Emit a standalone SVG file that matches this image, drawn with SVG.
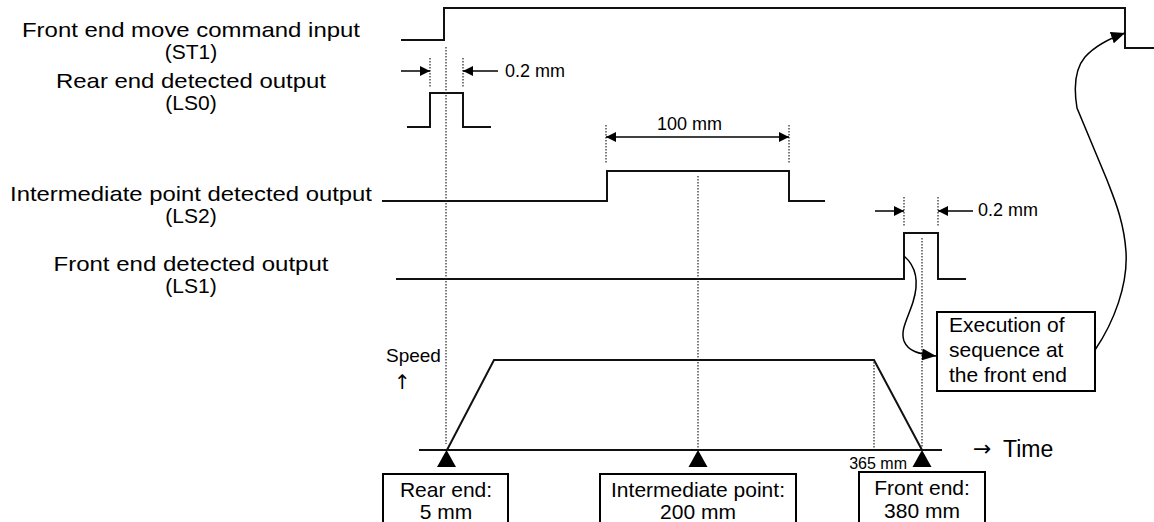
<svg xmlns="http://www.w3.org/2000/svg" width="1154" height="522" viewBox="0 0 1154 522">
<style>
text{font-family:"Liberation Sans",Arial,sans-serif;fill:#000}
.lbl{font-size:21px;text-anchor:middle}
.dim{font-size:18px}
.box{font-size:21px;text-anchor:middle}
.sym{font-family:"DejaVu Sans",sans-serif}
.sig{fill:none;stroke:#111;stroke-width:2}
.dot{fill:none;stroke:#222;stroke-width:1.2;stroke-dasharray:1.5 1.5}
.ar{fill:none;stroke:#000;stroke-width:1.5}
.rect{fill:#fff;stroke:#000;stroke-width:2}
</style>
<defs>
<marker id="ah" viewBox="0 0 10 10" refX="10" refY="5" markerWidth="10" markerHeight="10" markerUnits="userSpaceOnUse" orient="auto">
<path d="M0,0 L10,5 L0,10 Z" fill="#000"/>
</marker>
<marker id="ahs" viewBox="0 0 10 10" refX="10" refY="5" markerWidth="10" markerHeight="10" markerUnits="userSpaceOnUse" orient="auto-start-reverse">
<path d="M0,0 L10,5 L0,10 Z" fill="#000"/>
</marker>
<marker id="ahc" viewBox="0 0 14 12" refX="14" refY="6" markerWidth="14" markerHeight="12" markerUnits="userSpaceOnUse" orient="auto">
<path d="M0,0 L14,6 L0,12 Z" fill="#000"/>
</marker>
</defs>

<g id="label-st1">
<text class="lbl" x="191" y="37" textLength="338" lengthAdjust="spacingAndGlyphs">Front end move command input</text>
<text class="lbl" x="191" y="59">(ST1)</text>
</g>
<g id="label-ls0">
<text class="lbl" x="191" y="88" textLength="270" lengthAdjust="spacingAndGlyphs">Rear end detected output</text>
<text class="lbl" x="191" y="110">(LS0)</text>
</g>
<g id="label-ls2">
<text class="lbl" x="191" y="201" textLength="362" lengthAdjust="spacingAndGlyphs">Intermediate point detected output</text>
<text class="lbl" x="191" y="223">(LS2)</text>
</g>
<g id="label-ls1">
<text class="lbl" x="191" y="271" textLength="275" lengthAdjust="spacingAndGlyphs">Front end detected output</text>
<text class="lbl" x="191" y="293">(LS1)</text>
</g>

<g id="signal-st1"><polyline class="sig" points="401,40 444,40 444,8 1125,8 1125,48 1154,48"/></g>
<g id="signal-ls0"><polyline class="sig" points="407,127 430,127 430,93 463,93 463,127 491,127"/></g>
<g id="signal-ls2"><polyline class="sig" points="382,201 607,201 607,171 789,171 789,201 825,201"/></g>
<g id="signal-ls1"><polyline class="sig" points="396,279 904,279 904,233 938,233 938,279 966,279"/></g>
<g id="speed-profile">
<polyline class="sig" points="447,450 494,360 874,360 922,450"/>
<line class="sig" x1="419" y1="450" x2="942" y2="450"/>
<text x="386" y="362" style="font-size:19px">Speed</text>
<text class="sym" x="394" y="389" style="font-size:20px">↑</text>
<text class="sym" x="973" y="456" style="font-size:22px">→</text>
<text x="1003" y="457" style="font-size:23px">Time</text>
<text x="907" y="469" style="font-size:16px;text-anchor:end">365 mm</text>
</g>

<g id="box-rear">
<rect class="rect" x="383" y="474" width="125" height="60"/>
<text class="box" x="446" y="497">Rear end:</text>
<text class="box" x="446" y="519">5 mm</text>
<path d="M437,467 L456,467 L446.5,450 Z" fill="#000"/>
</g>
<g id="box-intermediate">
<rect class="rect" x="600" y="474" width="196" height="60"/>
<text class="box" x="698" y="497">Intermediate point:</text>
<text class="box" x="698" y="519">200 mm</text>
<path d="M688.5,467 L707.5,467 L698,450 Z" fill="#000"/>
</g>
<g id="box-front">
<rect class="rect" x="859" y="472" width="126" height="62"/>
<text class="box" x="922" y="495">Front end:</text>
<text class="box" x="922" y="518">380 mm</text>
<path d="M912.5,467 L931.5,467 L922,450 Z" fill="#000"/>
</g>
<g id="box-execution">
<rect class="rect" x="937" y="312" width="158" height="79"/>
<text x="949" y="332" style="font-size:21px">Execution of</text>
<text x="949" y="357" style="font-size:21px">sequence at</text>
<text x="949" y="382" style="font-size:21px">the front end</text>
</g>

<g id="dimensions">
<line class="dot" x1="430" y1="58" x2="430" y2="88"/>
<line class="dot" x1="463" y1="58" x2="463" y2="88"/>
<line class="ar" x1="401" y1="71" x2="430" y2="71" marker-end="url(#ah)"/>
<line class="ar" x1="498" y1="71" x2="463" y2="71" marker-end="url(#ah)"/>
<text class="dim" x="505" y="77">0.2 mm</text>
<line class="dot" x1="606" y1="125" x2="606" y2="163"/>
<line class="dot" x1="789" y1="125" x2="789" y2="163"/>
<line class="ar" x1="606" y1="137" x2="789" y2="137" marker-start="url(#ahs)" marker-end="url(#ahs)"/>
<text class="dim" x="657" y="130">100 mm</text>
<line class="dot" x1="904" y1="197" x2="904" y2="227"/>
<line class="dot" x1="938" y1="197" x2="938" y2="227"/>
<line class="ar" x1="875" y1="211" x2="904" y2="211" marker-end="url(#ah)"/>
<line class="ar" x1="973" y1="211" x2="938" y2="211" marker-end="url(#ah)"/>
<text class="dim" x="978" y="216">0.2 mm</text>
</g>

<g id="connectors">
<line class="dot" x1="446" y1="47" x2="446" y2="444"/>
<line class="dot" x1="698" y1="176" x2="698" y2="448"/>
<line class="dot" x1="874" y1="362" x2="874" y2="448"/>
<line class="dot" x1="922" y1="238" x2="922" y2="448"/>
<path class="ar" d="M904,256 C918,268 918,286 913,302 C908,318 900,330 904,341 C908,351 918,354 936,356" marker-end="url(#ahc)"/>
<path class="ar" d="M1095,350 C1114,322 1128,285 1126,252 C1124,220 1113,196 1107,180 L1077,108 C1074,90 1074,70 1085,57 C1095,46 1108,39 1125,33" marker-end="url(#ahc)"/>
</g>
</svg>
